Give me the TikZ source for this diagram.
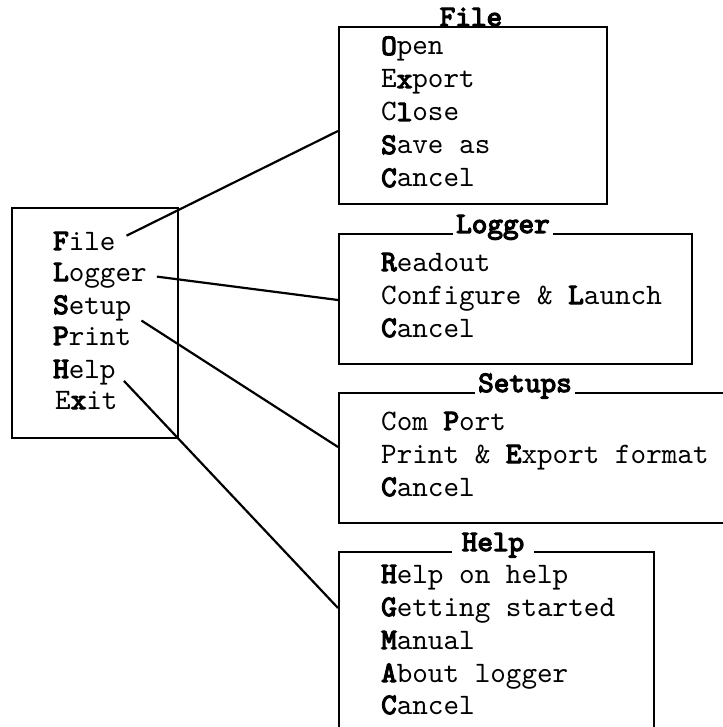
\documentclass[tikz,border=0pt]{standalone}
\usepackage{fontspec}
\setmainfont{lmmono10-regular.otf}[BoldFont=lmmono10-regular.otf, BoldFeatures={FakeBold=4}]
\usepackage{tikz}

\newcommand{\menufont}{\fontsize{29.7}{33}\selectfont}
\newcommand{\hot}[1]{\textbf{#1}}

\begin{document}
\begin{tikzpicture}[
		x=1pt, y=-1pt,
		every node/.style={font=\menufont, inner sep=0pt},
		item/.style={anchor=base west},
		menubox/.style={draw, line width=2.4pt, anchor=north west},
		menutitle/.style={anchor=base, fill=white, inner xsep=3pt, font=\menufont\bfseries},
		link/.style={line width=2.2pt, shorten <=12pt}
	]
  \useasboundingbox (0, 0) rectangle (722, 727);
  % frames
  \node (mainbox) [menubox, minimum width=166pt, minimum height=230pt] at (11, 207) {};
  \node (filebox) [menubox, minimum width=268pt, minimum height=177pt] at (338, 26) {};
  \node (loggerbox) [menubox, minimum width=353pt, minimum height=130pt] at (338, 233) {};
  \node (setupbox) [menubox, minimum width=420pt, minimum height=130pt] at (338, 392) {};
  \node (helpbox) [menubox, minimum width=315pt, minimum height=220pt] at (338, 551) {};
  % titles
  \node (file_t) [menutitle] at (471, 26) {File};
  \node (logger_t) [menutitle] at (503, 233) {Logger};
  \node (setup_t) [menutitle] at (525, 392) {Setups};
  \node (help_t) [menutitle, inner xsep=10pt] at (493, 551) {Help};
  % main menu
  \node (m_file) [item] at (53, 250) {\hot{F}ile};
  \node (m_logger) [item] at (53, 281) {\hot{L}ogger};
  \node (m_setup) [item] at (53, 314) {\hot{S}etup};
  \node (m_print) [item] at (53, 345) {\hot{P}rint};
  \node (m_help) [item] at (53, 378) {\hot{H}elp};
  \node (m_exit) [item] at (55, 409) {E\hot{x}it};
  % file menu
  \node (f_open) [item] at (381, 55) {\hot{O}pen};
  \node (f_export) [item] at (381, 88) {E\hot{x}port};
  \node (f_close) [item] at (381, 121) {C\hot{l}ose};
  \node (f_save) [item] at (381, 154) {\hot{S}ave as};
  \node (f_cancel) [item] at (381, 187) {\hot{C}ancel};
  % logger menu
  \node (l_read) [item] at (381, 271) {\hot{R}eadout};
  \node (l_conf) [item] at (381, 304) {Configure \& \hot{L}aunch};
  \node (l_cancel) [item] at (381, 337) {\hot{C}ancel};
  % setups menu
  \node (s_port) [item] at (381, 430) {Com \hot{P}ort};
  \node (s_format) [item] at (381, 463) {Print \& \hot{E}xport format};
  \node (s_cancel) [item] at (381, 496) {\hot{C}ancel};
  % help menu
  \node (h_help) [item] at (381, 583) {\hot{H}elp on help};
  \node (h_start) [item] at (381, 616) {\hot{G}etting started};
  \node (h_manual) [item] at (381, 649) {\hot{M}anual};
  \node (h_about) [item] at (381, 682) {\hot{A}bout logger};
  \node (h_cancel) [item] at (381, 714) {\hot{C}ancel};
  % where the links meet the frames
  \coordinate (file_in) at (338, 131);
  \coordinate (logger_in) at (338, 300);
  \coordinate (setup_in) at (338, 447);
  \coordinate (help_in) at (338, 608);
  \draw [link] (m_file.east) -- (file_in);
  \draw [link, shorten <=10pt] (m_logger.east) -- (logger_in);
  \draw [link] ([yshift=-6pt]m_setup.east) -- (setup_in);
  \draw [link] (m_help.east) -- (help_in);
\end{tikzpicture}
\end{document}
